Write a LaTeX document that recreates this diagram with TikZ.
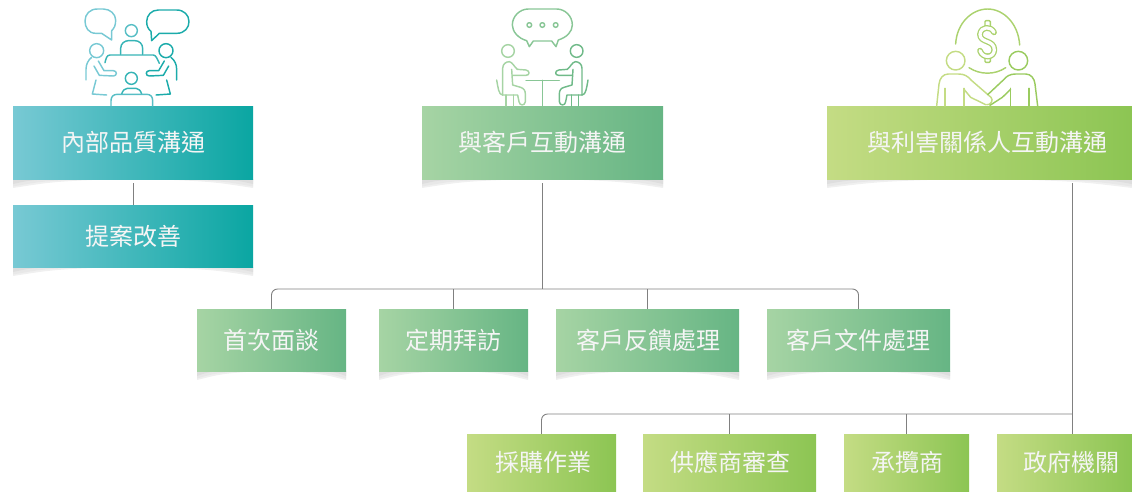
\documentclass[tikz,border=0pt]{standalone}
\usepackage{fontspec}
\setmainfont{Noto Sans CJK TC}
\definecolor{tealL}{HTML}{78C9D4}
\definecolor{tealR}{HTML}{0AA6A2}
\definecolor{mintL}{HTML}{A6D4A4}
\definecolor{mintR}{HTML}{66B584}
\definecolor{limeL}{HTML}{C4DC84}
\definecolor{limeR}{HTML}{8CC553}
\tikzset{
  box/.style={inner sep=0pt, text=white!92!gray, font=\fontsize{24}{24}\selectfont, anchor=center},
  tealbox/.style={box, left color=tealL, right color=tealR},
  mintbox/.style={box, left color=mintL, right color=mintR},
  limebox/.style={box, left color=limeL, right color=limeR},
  link/.style={draw=black!50, line width=.9pt},
  icon/.style={line width=1.45pt, line cap=round, line join=round},
}
\begin{document}
\begin{tikzpicture}[x=1pt, y=-1pt]
    \useasboundingbox (0,0) rectangle (1132,491);

    % soft shade below the boxes
    \foreach \xa/\xb/\yy in {13/253/179, 13/253/267, 422/663/179, 827/1132/179,
                             197/346/371, 379/528/371, 556/739/371, 767/950/371}
      \foreach \f/\h/\g in {.5/2.5/4, .42/9/6, .3/7.5/9, .16/5/13}
        \fill[black!\g]
          (\xa,\yy) -- (\xa,\yy+\h) .. controls (\xa+.4*\f*\xb-.4*\f*\xa,\yy+.3*\h) .. (\xa+\f*\xb-\f*\xa,\yy) -- cycle
          (\xb,\yy) -- (\xb,\yy+\h) .. controls (\xb-.4*\f*\xb+.4*\f*\xa,\yy+.3*\h) .. (\xb-\f*\xb+\f*\xa,\yy) -- cycle;

    % boxes
    \node[tealbox, minimum width=240pt, minimum height=73pt] (inner) at (133,142.5) {內部品質溝通};
    \node[tealbox, minimum width=240pt, minimum height=62pt] (proposal) at (133,236) {提案改善};
    \node[mintbox, minimum width=241pt, minimum height=73pt] (client) at (542.5,142.5) {與客戶互動溝通};
    \node[limebox, minimum width=305pt, minimum height=73pt] (stake) at (979.5,142.5) {\hspace*{16pt}與利害關係人互動溝通};

    \node[mintbox, minimum width=149pt, minimum height=62pt] (talk) at (271.5,340) {首次面談};
    \node[mintbox, minimum width=149pt, minimum height=62pt] (visit) at (453.5,340) {\raisebox{-2pt}{定期拜訪}};
    \node[mintbox, minimum width=183pt, minimum height=62pt] (feedback) at (647.5,340) {\raisebox{-1pt}{\hspace*{2pt}客戶反饋處理}};
    \node[mintbox, minimum width=183pt, minimum height=62pt] (docs) at (858.5,340) {\raisebox{1pt}{客戶文件處理}};

    \node[limebox, minimum width=149pt, minimum height=57pt] (buying) at (541.5,462.5) {\raisebox{-2pt}{\hspace*{4pt}採購作業}};
    \node[limebox, minimum width=173pt, minimum height=57pt] (vendor) at (729.5,462.5) {\raisebox{-2pt}{\hspace*{2pt}供應商審查}};
    \node[limebox, minimum width=125pt, minimum height=57pt] (builder) at (906.5,462.5) {\raisebox{-2pt}{\hspace*{2pt}承攬商}};
    \node[limebox, minimum width=135pt, minimum height=57pt] (gov) at (1064.5,462.5) {\raisebox{-2pt}{\hspace*{14pt}政府機關}};

    % connectors
    \coordinate (clientdown) at (542.5,289);
    \coordinate (stakestart) at (1072,183);
    \coordinate (stakedown) at (1072,414);
    \coordinate (govtop) at (1072,434);

    \draw[link] ([yshift=-4pt]inner.south) -- (proposal.north);
    \draw[link] ([yshift=-4pt]client.south) -- (clientdown);
    \draw[link, rounded corners=6pt] (talk.north) |- (clientdown) -| (docs.north);
    \foreach \kid in {visit,feedback}
      \draw[link] (\kid.north) -- (\kid.north |- clientdown);

    \draw[link] (stakestart) -- (govtop);
    \draw[link, rounded corners=6pt] (buying.north) |- (stakedown);
    \foreach \kid in {vendor,builder}
      \draw[link] (\kid.north) -- (\kid.north |- stakedown);

    % meeting icon
    \begin{scope}[shift={(60,0)}, scale=1/3, icon]
      \colorlet{ca}{tealL}
      \colorlet{cb}{tealL!70!tealR}
      \colorlet{cc}{tealL!40!tealR}
      \colorlet{cd}{tealL!15!tealR}
      \draw[ca] (155,120) -- (125,100) -- (108,100) .. controls (85,100) and (75,82) .. (75,63)
        .. controls (75,42) and (90,27) .. (112,27) -- (130,27)
        .. controls (150,27) and (167,42) .. (167,60) .. controls (167,75) and (163,85) .. (155,92) -- cycle;
      \draw[cd] (275,122) -- (298,100) -- (350,100) .. controls (375,100) and (387,82) .. (387,65)
        .. controls (387,45) and (372,30) .. (350,30) -- (295,30)
        .. controls (275,30) and (260,45) .. (260,65) .. controls (260,78) and (265,88) .. (273,94) -- cycle;
      \draw[cb] (214,92) circle (18);
      \draw[cc] (182,163) -- (182,145) .. controls (182,130) and (195,122) .. (205,122) -- (225,122)
        .. controls (238,122) and (248,132) .. (248,145) -- (248,163);
      \draw[cc] (135,188) .. controls (138,176) and (140,165) .. (150,165) -- (280,165)
        .. controls (288,165) and (292,178) .. (298,190);
      \draw[cc] (214,235) circle (18);
      \draw[cc] (185,282) .. controls (188,272) and (194,265) .. (202,265) -- (228,265)
        .. controls (236,265) and (242,272) .. (245,282);
      \draw[cb] (153,318) -- (153,302) .. controls (153,290) and (160,283) .. (172,283) -- (260,283)
        .. controls (272,283) and (278,290) .. (278,302) -- (278,318);
      \foreach \sx/\ox/\cc in {1/0/ca, -1/428/cd} {
        \begin{scope}[shift={(\ox,0)}, xscale=\sx]
          \draw[\cc] (110,152) circle (21);
          \draw[\cc] (78,240) -- (78,208) .. controls (78,192) and (85,180) .. (95,172);
          \draw[\cc] (115,183) -- (132,212) -- (160,212) .. controls (172,212) and (172,228) .. (160,228)
            -- (118,226) -- (102,198);
          \draw[\cc] (108,240) -- (97,282) -- (140,285);
        \end{scope}
      }
    \end{scope}

    % conversation icon
    \begin{scope}[shift={(470,0)}, scale=1/3, icon]
      \colorlet{ca}{mintL}
      \colorlet{cb}{mintL!55!mintR}
      \colorlet{cd}{mintL!15!mintR}
      \draw[cb] (178,140) -- (190,123) -- (245,123) -- (258,140) -- (265,120)
        .. controls (290,112) and (307,95) .. (307,75) .. controls (307,48) and (285,27) .. (260,27)
        -- (175,27) .. controls (150,27) and (127,48) .. (127,75)
        .. controls (127,95) and (145,115) .. (170,122) -- cycle;
      \foreach \x in {178,217,257}
        \draw[cb] (\x,75) circle (7);
      \draw[cb] (168,241) -- (268,241);
      \draw[cb] (217,241) -- (217,318);
      \foreach \sx/\ox/\cc in {1/0/ca, -1/434/cd} {
        \begin{scope}[shift={(\ox,0)}, xscale=\sx]
          \draw[\cc] (114,153) circle (19);
          \draw[\cc] (98,285) -- (98,205) .. controls (98,192) and (108,185) .. (118,185)
            .. controls (128,187) and (132,200) .. (142,208) -- (168,210)
            .. controls (180,212) and (180,226) .. (168,226) -- (128,226);
          \draw[\cc] (125,208) -- (128,255) -- (152,262) .. controls (162,265) and (166,272) .. (166,282) -- (166,305)
            .. controls (165,318) and (148,318) .. (147,305) -- (143,285) -- (98,285);
          \draw[\cc] (80,240) .. controls (84,262) and (86,285) .. (98,285);
          \draw[\cc] (108,285) -- (108,318);
          \draw[\cc] (130,285) -- (130,318);
        \end{scope}
      }
    \end{scope}

    % handshake icon
    \begin{scope}[shift={(915,0)}, scale=1/3, icon]
      \colorlet{ca}{limeL}
      \colorlet{cb}{limeL!55!limeR}
      \colorlet{cd}{limeL!25!limeR}
      \draw[cb] (122,132) .. controls (125,70) and (170,27) .. (218,27)
        .. controls (265,27) and (310,70) .. (314,135);
      \draw[cb] (162,203) .. controls (195,225) and (240,225) .. (272,203);
      \draw[cb, rounded corners=1pt] (210,62) rectangle (226,88);
      \draw[cb, rounded corners=1pt] (210,162) rectangle (226,187);
      \draw[cb, line width=1.3pt, double=white, double distance=3.2pt]
        (237,97) .. controls (228,78) and (198,78) .. (195,103)
        .. controls (195,130) and (238,118) .. (238,150)
        .. controls (236,176) and (202,175) .. (195,152);
      \draw[ca] (122,182) circle (28);
      \draw[ca] (65,318) -- (72,252) .. controls (74,235) and (84,222) .. (100,222) -- (130,222)
        .. controls (148,222) and (158,228) .. (168,240) -- (228,292)
        .. controls (236,300) and (228,316) .. (215,314);
      \draw[ca] (90,265) -- (90,318);
      \draw[ca] (147,265) -- (147,318);
      \draw[ca] (147,268) -- (167,292) -- (212,314);
      \draw[cd] (310,182) circle (28);
      \draw[cd] (368,318) -- (360,252) .. controls (358,235) and (348,222) .. (332,222) -- (302,222)
        .. controls (285,222) and (275,228) .. (265,240) -- (218,284);
      \draw[cd] (342,265) -- (342,318);
      \draw[cd] (287,265) -- (287,318);
      \draw[cd] (287,268) -- (262,292) -- (225,316);
    \end{scope}
  \end{tikzpicture}
\end{document}
